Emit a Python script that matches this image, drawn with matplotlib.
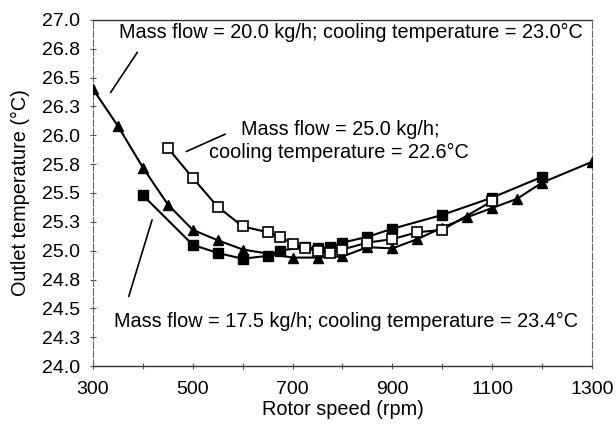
import matplotlib
matplotlib.use("Agg")
import matplotlib.pyplot as plt

plt.rcParams['font.family'] = ['Liberation Sans', 'DejaVu Sans']

# Mass flow = 20.0 kg/h (filled triangles)
rpm_20 = [300, 350, 400, 450, 500, 550, 600, 700, 750, 800, 850, 900, 950, 1000, 1050, 1100, 1150, 1200, 1300]
temp_20 = [26.40, 26.08, 25.72, 25.40, 25.18, 25.09, 25.01, 24.94, 24.94, 24.95, 25.03, 25.02, 25.10, 25.20, 25.29, 25.37, 25.45, 25.59, 25.77]

# Mass flow = 25.0 kg/h (open squares)
rpm_25 = [450, 500, 550, 600, 650, 675, 700, 725, 750, 775, 800, 850, 900, 950, 1000, 1100]
temp_25 = [25.89, 25.63, 25.38, 25.21, 25.16, 25.12, 25.06, 25.02, 25.00, 24.98, 25.01, 25.07, 25.10, 25.16, 25.18, 25.43]

# Mass flow = 17.5 kg/h (filled squares)
rpm_175 = [400, 500, 550, 600, 650, 675, 725, 750, 775, 800, 850, 900, 1000, 1100, 1200]
temp_175 = [25.48, 25.05, 24.98, 24.93, 24.955, 25.00, 25.03, 25.02, 25.03, 25.07, 25.12, 25.19, 25.31, 25.46, 25.64]

y_ticks = [24.0, 24.25, 24.5, 24.75, 25.0, 25.25, 25.5, 25.75, 26.0, 26.25, 26.5, 26.75, 27.0]
y_labels = ["24.0", "24.3", "24.5", "24.8", "25.0", "25.3", "25.5", "25.8", "26.0", "26.3", "26.5", "26.8", "27.0"]
x_ticks = [300, 500, 700, 900, 1100, 1300]

fig = plt.figure(figsize=(6.16, 4.25), dpi=100)
ax = fig.add_axes([0.151, 0.1388, 0.810, 0.8142])

ax.plot(rpm_20, temp_20, color='black', lw=1.5, marker='^', ms=7.5, mfc='black', mec='black', zorder=3)
ax.plot(rpm_175, temp_175, color='black', lw=1.5, marker='s', ms=6.5, mfc='black', mec='black', zorder=3)
ax.plot(rpm_25, temp_25, color='black', lw=1.5, marker='s', ms=6.5, mfc='white', mec='black', mew=1.2, zorder=4)

ax.set_xlim(300, 1300)
ax.set_ylim(24.0, 27.0)
ax.set_xticks(x_ticks)
ax.set_xticks(range(300, 1301, 100), minor=True)
ax.set_yticks(y_ticks)
ax.set_yticklabels(y_labels)
ax.tick_params(axis='both', which='both', direction='inout', length=5, width=0.8, color='#555555', labelsize=14)
ax.tick_params(axis='x', which='major', pad=8)
ax.tick_params(axis='y', which='major', pad=7)

for s in ['top', 'bottom']:
    ax.spines[s].set_color('#333333')
    ax.spines[s].set_linewidth(1.0)
for s in ['left', 'right']:
    ax.spines[s].set_color('#666666')
    ax.spines[s].set_linewidth(0.8)
    ax.spines[s].set_linestyle((0, (6, 2)))

ax.set_xlabel("Rotor speed (rpm)", fontsize=14.3, va='center')
ax.set_ylabel("Outlet temperature (°C)", fontsize=14.3, va='center')
ax.xaxis.set_label_coords(0.5, -0.126)
ax.yaxis.set_label_coords(-0.146, 0.5)

fs = 14.3
ax.text(352, 26.888, "Mass flow = 20.0 kg/h; cooling temperature = 23.0°C", fontsize=fs, va='center', ha='left')
ax.annotate("", xy=(332, 26.35), xytext=(392, 26.74),
            arrowprops=dict(arrowstyle='-', color='black', lw=1.2))

ax.text(596, 26.05, "Mass flow = 25.0 kg/h;", fontsize=fs, va='center', ha='left')
ax.text(532, 25.85, "cooling temperature = 22.6°C", fontsize=fs, va='center', ha='left')
ax.annotate("", xy=(482, 25.85), xytext=(570, 26.02),
            arrowprops=dict(arrowstyle='-', color='black', lw=1.2))

ax.text(342, 24.39, "Mass flow = 17.5 kg/h; cooling temperature = 23.4°C", fontsize=fs, va='center', ha='left')
ax.annotate("", xy=(420, 25.29), xytext=(370, 24.58),
            arrowprops=dict(arrowstyle='-', color='black', lw=1.2))

fig.savefig("out.png", dpi=100)
